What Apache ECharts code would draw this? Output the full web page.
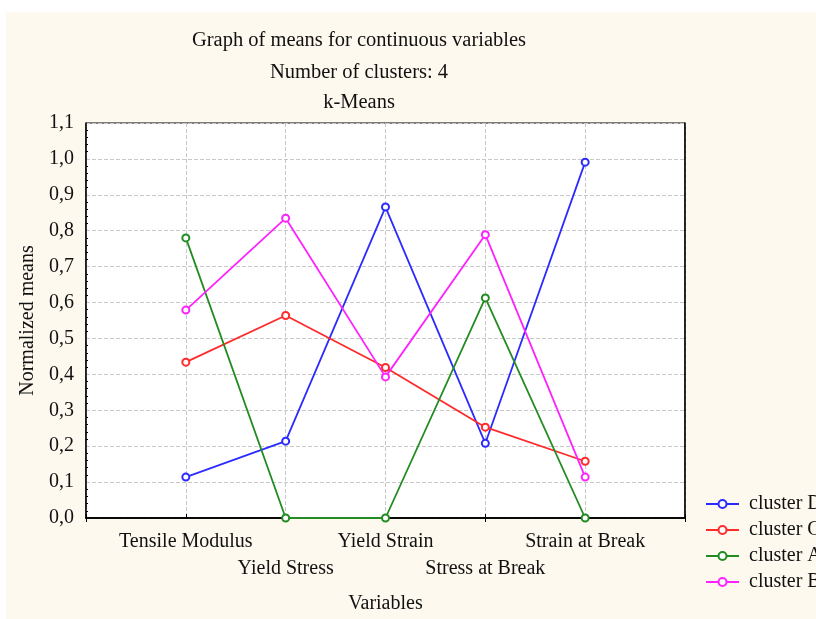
<!DOCTYPE html>
<html><head><meta charset="utf-8">
<script src="https://cdn.jsdelivr.net/npm/echarts@6/dist/echarts.min.js"></script>
<style>html,body{margin:0;padding:0;background:#fff;overflow:hidden}#c{width:816px;height:619px}</style>
</head><body><div id="c"></div>
<script>
const categories = ['Tensile Modulus','Yield Stress','Yield Strain','Stress at Break','Strain at Break'];
const yTicks = [0,0.1,0.2,0.3,0.4,0.5,0.6,0.7,0.8,0.9,1.0,1.1];
const clusterD = [0.114, 0.214, 0.866, 0.208, 0.991];
const clusterC = [0.434, 0.564, 0.419, 0.253, 0.158];
const clusterA = [0.780, 0.000, 0.000, 0.613, 0.000];
const clusterB = [0.579, 0.835, 0.393, 0.789, 0.114];
const seriesNames = ['cluster D','cluster C','cluster A','cluster B'];
const seriesColors = ['#2b2bff','#ff2a2a','#228b22','#ff22ff'];
const seriesValues = [clusterD, clusterC, clusterA, clusterB];

const F = '"Liberation Serif","DejaVu Serif",serif';
const FS = 20;
const axisCats = [''].concat(categories, ['']);
const pad = arr => [null].concat(arr, [null]);
const tStyle = {fontFamily:F,fontSize:20.5,fontWeight:'normal',color:'#111'};

const chart = echarts.init(document.getElementById('c'));
chart.setOption({
  backgroundColor: '#ffffff',
  animation: false,
  graphic: [{type:'rect', z:-10, shape:{x:6,y:12,width:810,height:607}, style:{fill:'#fdf9ef'}}],
  title: [
    {text:'Graph of means for continuous variables', left:354, top:25, textAlign:'center', textStyle:tStyle},
    {text:'Number of clusters: 4', left:354, top:57, textAlign:'center', textStyle:tStyle},
    {text:'k-Means', left:354, top:87, textAlign:'center', textStyle:tStyle}
  ],
  legend: {
    orient:'vertical', left:700, top:489, itemGap:6, itemWidth:33, itemHeight:10,
    textStyle:{fontFamily:F, fontSize:FS, color:'#111', padding:[0,0,0,5]},
    data: seriesNames
  },
  grid: {left:86, width:599, top:123, height:400, show:true, backgroundColor:'#ffffff', borderColor:'#000', borderWidth:1},
  xAxis: [{
    type:'category', data:axisCats, boundaryGap:false, position:'bottom',
    name:'Variables', nameLocation:'middle', nameGap:76,
    nameTextStyle:{fontFamily:F, fontSize:FS, color:'#111'},
    axisLine:{lineStyle:{color:'#000', width:1.5}},
    axisTick:{inside:true, length:4, lineStyle:{color:'#000'}},
    axisLabel:{interval:0, fontFamily:F, fontSize:FS, color:'#111', margin:10, lineHeight:27,
      formatter:(v, i) => (i % 2 === 0 && v) ? '\n' + v : v},
    splitLine:{show:true, lineStyle:{color:'#c8c8c8', type:'dashed'}}
  },{
    type:'category', data:axisCats, boundaryGap:false, position:'top',
    axisLine:{lineStyle:{color:'#000', width:1.5}},
    axisTick:{inside:true, length:4, lineStyle:{color:'#000'}},
    axisLabel:{show:false}, splitLine:{show:false}
  }],
  yAxis: [{
    type:'value', min:yTicks[0], max:yTicks[yTicks.length-1], interval:0.1,
    name:'Normalized means', nameLocation:'middle', nameGap:48,
    nameTextStyle:{fontFamily:F, fontSize:FS, color:'#111'},
    axisLine:{show:true, lineStyle:{color:'#000', width:1.5}},
    axisTick:{inside:true, length:4, lineStyle:{color:'#000'}},
    minorTick:{show:true, splitNumber:5, length:2, lineStyle:{color:'#000'}},
    axisLabel:{fontFamily:F, fontSize:FS, color:'#111', margin:12,
      formatter: v => v.toFixed(1).replace('.', ',')},
    splitLine:{show:true, lineStyle:{color:'#c8c8c8', type:'dashed'}}
  },{
    type:'value', min:yTicks[0], max:yTicks[yTicks.length-1], interval:0.1, position:'right',
    axisLine:{show:true, lineStyle:{color:'#000', width:1.5}},
    axisTick:{show:false}, axisLabel:{show:false}, splitLine:{show:false}
  }],
  series: seriesNames.map((n, k) => ({
    name:n, type:'line', data:pad(seriesValues[k]), xAxisIndex:0, yAxisIndex:0,
    symbol:'emptyCircle', symbolSize:7, connectNulls:false,
    lineStyle:{color:seriesColors[k], width:1.8},
    itemStyle:{color:seriesColors[k], borderColor:seriesColors[k], borderWidth:1.3},
    z: 3
  }))
});
</script></body></html>
